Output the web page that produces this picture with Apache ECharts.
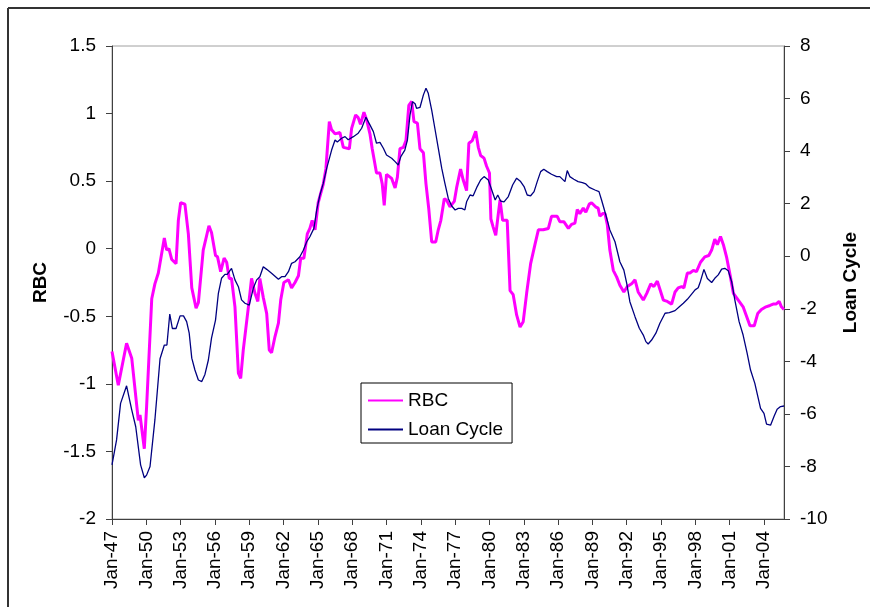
<!DOCTYPE html>
<html>
<head>
<meta charset="utf-8">
<script src="https://cdn.jsdelivr.net/npm/echarts@6/dist/echarts.min.js"></script>
<style>
  html, body { margin: 0; padding: 0; background: #fff; }
  #chart { width: 870px; height: 607px; }
</style>
</head>
<body>
<div id="chart"></div>
<script>
// Time is given as quarters elapsed since Jan-1947 (0 = 1947Q1)
const xTickLabels = ['Jan-47','Jan-50','Jan-53','Jan-56','Jan-59','Jan-62','Jan-65','Jan-68','Jan-71','Jan-74',
                     'Jan-77','Jan-80','Jan-83','Jan-86','Jan-89','Jan-92','Jan-95','Jan-98','Jan-01','Jan-04'];
const leftTicks = [-2, -1.5, -1, -0.5, 0, 0.5, 1, 1.5];
const rightTicks = [-10, -8, -6, -4, -2, 0, 2, 4, 6, 8];

const rbcQuarter = [
  0, 2.2, 5.1, 6.9, 9.2, 9.8, 11.3, 12.1, 13.9, 15,
  16.2, 18.3, 19.1, 19.9, 20.9, 22.4, 23.2, 24, 25.5, 26.7,
  27.9, 29.4, 30.2, 31.9, 33.9, 34.8, 36.2, 36.9, 38, 39.2,
  40.1, 41, 41.8, 43, 44.2, 45, 45.9, 47.7, 48.8, 50,
  51, 51.7, 52.9, 54.1, 55, 55.8, 57, 58.2, 59, 60.1,
  61.7, 62.8, 64, 65.2, 66, 67.1, 68.3, 69.2, 70, 71,
  72.1, 73.9, 74.8, 76, 76.8, 78, 79.7, 80.9, 83, 83.8,
  85.2, 86.1, 86.9, 88.1, 89.1, 90.2, 91, 92.5, 93.7, 94.5,
  95.2, 96, 97.8, 99, 99.8, 100.7, 101.9, 102.8, 103.8, 104.8,
  105.6, 106.8, 107.7, 108.9, 109.8, 110.8, 111.8, 113.2, 114.1, 115,
  116.2, 117, 118.2, 119.7, 120.5, 121.9, 122.8, 124, 124.8, 126,
  127.2, 128.1, 128.9, 130.1, 131, 132, 132.5, 133.3, 134.2, 135.1,
  135.7, 136.6, 138.2, 139.2, 140.3, 141.5, 142.7, 143.8, 145, 146.4,
  147.9, 149.1, 150.8, 152.6, 153.7, 155.7, 156.6, 158, 159.6, 160.7,
  161.9, 162.7, 163.6, 164.8, 165.7, 166.9, 167.7, 169.1, 170, 170.6,
  171.6, 172.4, 173.2, 174.1, 175.3, 176.5, 177.6, 179, 180.2, 181.7,
  182.9, 184, 185.8, 187, 188.4, 189.5, 190.7, 191.6, 192.8, 194.2,
  195.7, 196.9, 198, 199.2, 200, 201.2, 202.1, 203.3, 204.4, 205.8,
  207.3, 208.7, 209.7, 210.8, 211.7, 212.8, 213.8, 214.9, 216.1, 217.3,
  219, 220.7, 221.9, 223.1, 224.6, 225.8, 227.1, 228.7, 230.1, 231.2,
  232.2, 233.3, 234.1, 235
];
const rbcValues = [
  -0.76, -1.01, -0.70, -0.81, -1.27, -1.23, -1.48, -1.17, -0.37, -0.26,
  -0.18, 0.08, -0.01, 0.00, -0.08, -0.11, 0.21, 0.34, 0.33, 0.11,
  -0.29, -0.44, -0.40, -0.01, 0.17, 0.12, -0.05, -0.06, -0.17, -0.07,
  -0.10, -0.22, -0.22, -0.43, -0.92, -0.96, -0.75, -0.43, -0.22, -0.33,
  -0.39, -0.22, -0.36, -0.48, -0.75, -0.77, -0.65, -0.55, -0.38, -0.25,
  -0.23, -0.29, -0.25, -0.20, -0.07, -0.07, 0.11, 0.15, 0.21, 0.14,
  0.34, 0.48, 0.59, 0.94, 0.88, 0.85, 0.86, 0.75, 0.74, 0.89,
  0.99, 0.97, 0.92, 1.01, 0.95, 0.85, 0.74, 0.56, 0.56, 0.48,
  0.32, 0.55, 0.52, 0.45, 0.53, 0.74, 0.75, 0.80, 1.06, 1.09,
  0.94, 0.93, 0.74, 0.71, 0.48, 0.29, 0.05, 0.05, 0.14, 0.21,
  0.37, 0.36, 0.31, 0.35, 0.45, 0.59, 0.51, 0.43, 0.78, 0.80,
  0.87, 0.75, 0.69, 0.67, 0.61, 0.56, 0.22, 0.16, 0.10, 0.26,
  0.36, 0.21, 0.21, -0.31, -0.34, -0.49, -0.58, -0.54, -0.33, -0.11,
  0.03, 0.14, 0.14, 0.15, 0.24, 0.24, 0.20, 0.20, 0.15, 0.18,
  0.19, 0.29, 0.26, 0.30, 0.27, 0.33, 0.34, 0.31, 0.30, 0.24,
  0.26, 0.26, 0.18, -0.01, -0.16, -0.21, -0.27, -0.32, -0.28, -0.26,
  -0.23, -0.32, -0.38, -0.33, -0.26, -0.28, -0.24, -0.30, -0.38, -0.39,
  -0.41, -0.32, -0.29, -0.28, -0.29, -0.18, -0.18, -0.16, -0.17, -0.10,
  -0.06, -0.05, -0.01, 0.07, 0.03, 0.09, 0.03, -0.06, -0.19, -0.33,
  -0.38, -0.43, -0.50, -0.57, -0.57, -0.48, -0.45, -0.43, -0.42, -0.41,
  -0.41, -0.39, -0.43, -0.45
];

const loanQuarter = [
  0, 1.6, 3, 5.1, 6.9, 8.3, 10, 11.3, 12.1, 13.3,
  15, 16.8, 18.3, 19.2, 20.2, 21.1, 22.4, 23.8, 25, 26.1,
  27, 27.9, 29, 30.2, 31.4, 32.5, 33.7, 34.8, 36.2, 37.2,
  38.3, 39.5, 40.3, 41.8, 43, 44.2, 45.3, 46.5, 48, 49.4,
  50.6, 51.7, 52.9, 54.1, 55.8, 58.2, 59.3, 60.5, 61.7, 62.8,
  64, 65.7, 66.9, 68.1, 69.2, 70.6, 71.6, 72.7, 73.9, 75.1,
  76.8, 78, 78.8, 80.3, 81.5, 82.6, 84.4, 86.1, 87.3, 88.8,
  90.2, 91.4, 92.5, 93.7, 94.9, 96, 97.8, 99, 100.1, 101,
  102.4, 103.3, 104.2, 105.1, 106, 106.5, 107.7, 108.9, 109.8, 110.6,
  111.8, 112.9, 114.1, 115.3, 116.4, 117.6, 118.8, 120, 121.1, 122.3,
  123.4, 124, 125.2, 126.3, 127.7, 128.9, 130.1, 131.6, 132.8, 134,
  134.9, 135.9, 137.1, 138.6, 140.1, 141.5, 142.9, 144.1, 145.2, 146.4,
  147.6, 148.7, 149.9, 151, 152.2, 153.7, 155.5, 156.6, 158.4, 159.2,
  160.1, 161.5, 163, 164.5, 165.7, 166.9, 168.9, 170.3, 171.2, 172.7,
  174.1, 175.9, 177.6, 179, 180, 181.1, 182.9, 184.4, 185.8, 186.7,
  187.5, 188.7, 190.2, 191.6, 193.4, 194.9, 196.9, 198.4, 199.8, 201.2,
  202.7, 203.9, 205, 205.8, 207, 208.2, 209.7, 210.8, 212, 213.2,
  214.3, 215.5, 216.7, 217.8, 219.3, 220.7, 222.1, 223.3, 224.8, 226,
  226.8, 228, 228.9, 230.3, 231.5, 232.6, 233.8, 235
];
const loanValues = [
  -7.94, -6.99, -5.60, -4.93, -5.85, -6.49, -7.94, -8.43, -8.33, -8.00,
  -6.23, -3.90, -3.38, -3.38, -2.20, -2.75, -2.75, -2.27, -2.27, -2.49,
  -2.93, -3.88, -4.33, -4.71, -4.77, -4.50, -3.95, -3.12, -2.43, -1.41,
  -0.84, -0.69, -0.69, -0.46, -0.90, -1.16, -1.66, -1.79, -1.86, -1.22,
  -0.90, -0.78, -0.40, -0.50, -0.65, -0.88, -0.78, -0.78, -0.59, -0.27,
  -0.21, -0.02, 0.23, 0.55, 0.74, 1.06, 1.76, 2.33, 2.78, 3.35,
  4.04, 4.42, 4.35, 4.49, 4.55, 4.43, 4.55, 4.68, 4.87, 5.29,
  5.00, 4.74, 4.30, 4.33, 4.11, 3.85, 3.73, 3.60, 3.47, 3.79,
  4.04, 4.42, 5.37, 5.88, 5.80, 5.63, 5.66, 6.14, 6.39, 6.20,
  5.56, 4.87, 4.11, 3.35, 2.78, 2.20, 1.91, 1.76, 1.82, 1.82,
  1.76, 2.07, 2.33, 2.30, 2.65, 2.90, 3.03, 2.90, 2.52, 2.14,
  2.33, 2.10, 2.07, 2.27, 2.71, 2.97, 2.84, 2.65, 2.33, 2.30,
  2.46, 2.84, 3.22, 3.31, 3.22, 3.12, 3.03, 3.03, 2.84, 3.26,
  3.03, 2.93, 2.84, 2.80, 2.75, 2.62, 2.52, 2.46, 2.14, 1.57,
  1.00, 0.55, -0.21, -0.53, -1.03, -1.73, -2.30, -2.74, -3.00, -3.25,
  -3.34, -3.19, -2.93, -2.55, -2.17, -2.15, -2.07, -1.92, -1.79, -1.64,
  -1.44, -1.28, -1.20, -0.95, -0.50, -0.85, -1.00, -0.84, -0.71, -0.49,
  -0.46, -0.55, -0.97, -1.66, -2.49, -3.00, -3.69, -4.33, -4.84, -5.41,
  -5.79, -5.98, -6.39, -6.43, -6.10, -5.82, -5.72, -5.70
];

const lastQuarter = 235;   // 1947Q1 .. 2005Q4
const toPairs = (q, v) => q.map((t, i) => [t, v[i]]);

const chart = echarts.init(document.getElementById('chart'), null, { renderer: 'canvas' });
const FONT = '"Liberation Sans", Arial, sans-serif';

chart.setOption({
  animation: false,
  backgroundColor: '#fff',
  textStyle: { fontFamily: FONT },
  grid: { left: 112, right: 86, top: 46, bottom: 88, show: true, borderColor: '#a0a0a0', borderWidth: 1 },
  graphic: [
    { type: 'line', silent: true, shape: { x1: 8, y1: 8, x2: 870, y2: 8 }, style: { stroke: '#333', lineWidth: 2 } },
    { type: 'line', silent: true, shape: { x1: 8, y1: 8, x2: 8, y2: 607 }, style: { stroke: '#333', lineWidth: 2 } }
  ],
  legend: {
    left: 361, top: 383, orient: 'vertical',
    borderColor: '#000', borderWidth: 1, padding: [8, 9, 4, 6],
    itemWidth: 35, itemHeight: 14, itemGap: 10,
    itemStyle: { opacity: 0 },
    textStyle: { fontFamily: FONT, fontSize: 19, color: '#000' },
    data: ['RBC', 'Loan Cycle']
  },
  xAxis: {
    type: 'value', min: 0, max: lastQuarter, interval: 12,
    splitLine: { show: false },
    axisLine: { onZero: false, lineStyle: { color: '#404040', width: 1 } },
    axisTick: { length: 6, lineStyle: { color: '#404040' } },
    axisLabel: {
      rotate: 90, margin: 12, fontSize: 19, color: '#000', fontFamily: FONT,
      showMaxLabel: false,
      formatter: v => { const k = Math.round(v / 12); return (Math.abs(v - k * 12) < 1e-6 && xTickLabels[k]) ? xTickLabels[k] : ''; }
    }
  },
  yAxis: [{
    type: 'value', min: leftTicks[0], max: leftTicks[leftTicks.length - 1], interval: 0.5,
    name: 'RBC', nameLocation: 'middle', nameGap: 62, nameRotate: 90,
    nameTextStyle: { fontWeight: 'bold', fontSize: 19, color: '#000', fontFamily: FONT },
    axisLine: { show: true, lineStyle: { color: '#404040' } },
    axisTick: { show: true, length: 6, lineStyle: { color: '#404040' } },
    axisLabel: { fontSize: 19, margin: 16, color: '#000', fontFamily: FONT },
    splitLine: { show: false }
  }, {
    type: 'value', position: 'right', min: rightTicks[0], max: rightTicks[rightTicks.length - 1], interval: 2,
    name: 'Loan Cycle', nameLocation: 'middle', nameGap: 57, nameRotate: 90,
    nameTextStyle: { fontWeight: 'bold', fontSize: 19, color: '#000', fontFamily: FONT },
    axisLine: { show: true, lineStyle: { color: '#404040' } },
    axisTick: { show: true, length: 6, lineStyle: { color: '#404040' } },
    axisLabel: { fontSize: 19, margin: 16, color: '#000', fontFamily: FONT },
    splitLine: { show: false }
  }],
  series: [{
    name: 'RBC', type: 'line', yAxisIndex: 0, symbol: 'none',
    color: '#ff00ff', lineStyle: { color: '#ff00ff', width: 3 },
    data: toPairs(rbcQuarter, rbcValues)
  }, {
    name: 'Loan Cycle', type: 'line', yAxisIndex: 1, symbol: 'none',
    color: '#000080', lineStyle: { color: '#000080', width: 1.3 },
    data: toPairs(loanQuarter, loanValues)
  }]
});
</script>
</body>
</html>
